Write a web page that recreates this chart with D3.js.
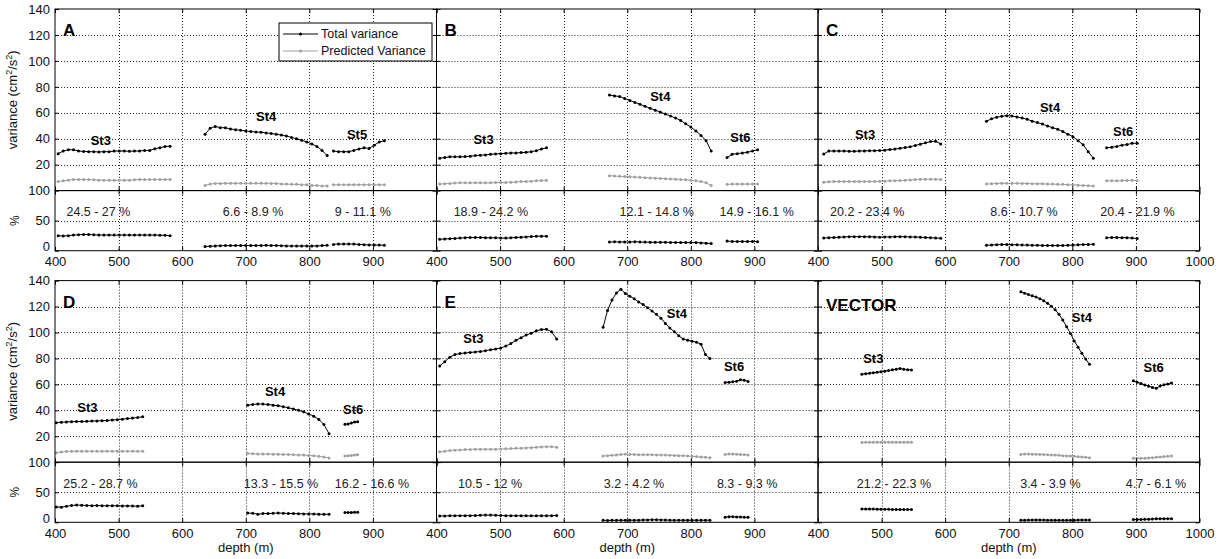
<!DOCTYPE html>
<html><head><meta charset="utf-8">
<script src="https://cdn.jsdelivr.net/npm/d3@7"></script>
<style>
body{margin:0;background:#fff;}
svg text{font-family:"Liberation Sans",Arial,Helvetica,sans-serif;}
</style></head><body>
<svg id="chart" width="1219" height="559"></svg>
<script>
// ---------- tick labels ----------
const depthTicks = [400,500,600,700,800,900,1000];
const varTicks = [20,40,60,80,100,120,140];
const pctTicks = [0,50,100];
const panelNames = ["A","B","C","D","E","VECTOR"];
const stationNames = [["St3","St4","St5"],["St3","St4","St6"],["St3","St4","St6"],["St3","St4","St6"],["St3","St4","St6"],["St3","St4","St6"]];
const legendLabels = ["Total variance","Predicted Variance"];

// ---------- depth grid of each segment: [first depth, bin step] ----------
const A_bins = [[405,8],[636,8],[838,8]];
const B_bins = [[405,8],[672,8],[857,8]];
const C_bins = [[409,8],[665,8],[854,8]];
const D_bins = [[402,8],[703,8],[856,5]];
const E_bins = [[405,8],[662,7],[854,6]];
const F_bins = [[469,6],[719,6],[896,6]];

// ---------- Panel A ----------
const A_St3_tot = [28.5,30.5,31.5,31.5,30.5,30.2,30,30,29.8,30,30,30.5,30.5,30.5,30.3,30.5,30.5,31,31,32.3,33,34,34.2];
const A_St3_pre = [7,7.5,8,8.5,8.5,8.5,8.5,8.3,8,8,8,8,8,8,8,8.3,8.5,8.5,8.5,8.5,8.5,8.5,8.5];
const A_St3_pct = [25,24.5,25,26,26.5,27,27,26.5,26,26,26,26,26,26,26,26,26,26,26,26,25.8,25.5,25];
const A_St4_tot = [43.5,48,49.5,48.5,48.5,47.5,47,46.5,46,45.5,45.2,45,44.5,44,43.5,42.8,42,41,40,38.8,37.5,36,34,31,27];
const A_St4_pre = [4,5,5.5,5.5,5.6,5.6,5.6,5.6,5.6,5.6,5.6,5.6,5.6,5.5,5.5,5,5,4.8,4.8,4.5,4.5,4,4,3.5,3.5];
const A_St4_pct = [6.8,7.5,8,8.3,8.5,8.5,8.5,8.5,8.7,8.7,8.7,8.7,8.9,8.7,8.5,8.3,8,7.8,7.8,7.8,7.8,8,8,8.5,8.9];
const A_St5_tot = [30.5,30,30,30,31,32,33,32.5,35,37.5,38.5];
const A_St5_pre = [4.5,4.5,4.5,4.5,4.5,4.5,4.5,4.5,4.5,4.5,4.5];
const A_St5_pct = [10.5,11,11,11.1,11,10.5,10,9.5,9.5,9.3,9];
// ---------- Panel B ----------
const B_St3_tot = [25,25.5,26,26,26,26.2,26.5,27,27.3,27.5,28,28.3,28.5,28.7,29,29,29.3,29.5,30,30.8,32,33];
const B_St3_pre = [5,5.3,5.5,5.8,6,6,6,6,6,6,6,6.2,6.2,6.3,6.5,6.7,7,7,7.3,7.5,7.8,8];
const B_St3_pct = [19,19.5,20,20.5,21,21.5,22,22,22,21.5,21.5,21.5,21,21,21.5,22,22.5,23,23.5,24,24.2,24.2];
const B_St4_tot = [73.7,73,72.5,71,69.5,68,66.5,65,63.5,62,60.5,59,57.5,56,54,51.5,49,46,42.5,38.5,30.5];
const B_St4_pre = [11.5,11.2,11,10.8,10.6,10.4,10.2,10,9.8,9.6,9.4,9.2,9,8.8,8.5,8.3,8,7.5,7,6,4];
const B_St4_pct = [14.5,14.8,14.5,14.5,14.5,14.8,14.5,14.3,14,14,14,14,13.8,13.8,13.5,13.5,13.5,13.5,13,12.5,12.1];
const B_St6_tot = [25.5,28,28.5,29,29.5,30.5,31.5];
const B_St6_pre = [4.8,5,5,5,5,5,5];
const B_St6_pct = [16,15.5,15.5,15.5,15.5,15.5,15];
// ---------- Panel C ----------
const C_St3_tot = [28.2,30.5,30.5,30.5,30.5,30.3,30.3,30.5,30.6,30.7,30.8,30.9,31.2,31.6,32,32.6,33.2,33.8,34.8,35.8,36.8,37.8,38,36];
const C_St3_pre = [6.5,6.8,7,7,7,7,7,7,7,7,7,7.2,7.3,7.5,7.6,7.8,8,8.2,8.5,8.7,8.8,8.8,8.8,8.5];
const C_St3_pct = [21,21.5,22,22.5,23,23.2,23.4,23.4,23.3,23.2,23,22.5,23,23,23.2,23.4,23.3,23,22.7,22.5,22,21.5,21,20.8];
const C_St4_tot = [53.4,55.4,56.5,57.3,57.8,57.5,56.8,56,55,53.5,52.5,51.3,49.8,48.5,47.2,45.5,43.5,41.6,38.5,35.3,30,24.9];
const C_St4_pre = [5,5.3,5.5,5.6,5.6,5.6,5.6,5.5,5.5,5.3,5.3,5.2,5,5,4.8,4.8,4.5,4.5,4.2,4,3.8,3.5];
const C_St4_pct = [9,9.5,10,10.3,10.2,10,9.8,9.5,9.3,9,9,8.8,8.7,8.6,8.6,8.8,9,9.3,9.7,10.2,10.5,10.7];
const C_St6_tot = [33,33.5,34,35,35.5,36.5,36.5];
const C_St6_pre = [7.5,7.5,7.5,7.7,7.8,8,7.5];
const C_St6_pct = [21.5,21.8,21.9,21.7,21.5,21,20.4];
// ---------- Panel D ----------
const D_St3_tot = [30.5,30.8,31,31.2,31.3,31.4,31.5,31.7,31.8,32,32.2,32.5,32.8,33.2,33.6,34,34.5,35];
const D_St3_pre = [7.3,7.8,8.2,8.4,8.5,8.5,8.5,8.5,8.5,8.5,8.5,8.5,8.5,8.5,8.5,8.5,8.5,8.5];
const D_St3_pct = [25.5,25.2,26.5,28,28.7,28.5,28,27.5,28,27.5,27.5,27.5,27.5,27.3,27.3,27,26.8,27.5];
const D_St4_tot = [44,44.5,44.9,44.8,44.5,44,43.5,42.8,42,41,40,38.8,37.2,35.5,33,29,22];
const D_St4_pre = [6.8,6.5,6.3,6.3,6.3,6.2,6.2,6,6,5.8,5.6,5.5,5.2,5,4.5,4,3.2];
const D_St4_pct = [15.5,15,13.5,14.5,14.5,15,15.5,15,14.8,14.5,14.3,14,14,13.8,13.5,13.3,13.3];
const D_St6_tot = [29.3,29.5,30.3,31,31.2];
const D_St6_pre = [4.8,5,5.2,5.5,5.8];
const D_St6_pct = [16.2,16.4,16.5,16.6,16.6];
// ---------- Panel E ----------
const E_St3_tot = [74.2,77.5,81,83,83.8,84.2,84.6,85,85.3,86,86.7,87.3,88,89.5,91.5,94,96,98,99.5,101.3,102.3,102.5,100.5,95];
const E_St3_pre = [8,8.5,9,9.3,9.5,9.7,9.8,10,10,10,10,10,10.2,10.3,10.5,10.7,10.8,11,11.2,11.5,11.8,12,12,11.5];
const E_St3_pct = [10.5,10.6,10.8,10.8,11,11,11,11.3,11.8,12,12,11.8,11.5,11,10.8,10.8,10.7,10.7,10.7,10.8,10.8,10.8,11,11.3];
const E_St4_tot = [104,117,125,130.5,133.3,130,128,126,123.5,121.5,119,116.5,114,111,107,103.5,100.5,97.5,95,94,93.3,92.5,91,83,80];
const E_St4_pre = [4.8,5,5.3,5.5,6,6.3,6,6,5.8,5.8,5.8,5.8,5.6,5.5,5.5,5.3,5.2,5,5,4.8,4.5,4.3,4,3.8,3.5];
const E_St4_pct = [3.3,3.2,3.3,3.3,3.4,3.4,3.5,3.5,3.6,3.8,4,4.2,4.2,4,3.8,3.6,3.5,3.5,3.5,3.5,3.5,3.5,3.5,3.5,3.5];
const E_St6_tot = [61.5,61.7,62,62.5,63.5,63.2,62.3];
const E_St6_pre = [6,6.3,6.3,6.2,6,5.8,5.6];
const E_St6_pct = [8.5,9.3,9.3,9,8.8,8.5,8.3];
// ---------- Panel VECTOR ----------
const F_St3_tot = [67.8,68.2,68.6,69,69.3,69.8,70.2,70.7,71.2,71.6,72.3,71.6,71.2,71.1];
const F_St3_pre = [15.2,15.3,15.3,15.3,15.3,15.3,15.3,15.3,15.3,15.3,15.3,15.3,15.3,15.3];
const F_St3_pct = [22.3,22.2,22.1,22,21.9,21.8,21.7,21.6,21.5,21.4,21.3,21.2,21.3,21.5];
const F_St4_tot = [131.5,130.3,129.3,128.3,127.3,126,124.5,122.6,120.3,117.5,114,109.6,104.5,99.3,93.5,88.7,84,79.5,75.5];
const F_St4_pre = [6,6.3,6.3,6.2,6.2,6,6,5.8,5.6,5.5,5.3,5,4.8,4.8,4.5,4.2,4,3.8,3.5];
const F_St4_pct = [3.5,3.6,3.7,3.8,3.9,3.8,3.7,3.6,3.6,3.5,3.5,3.4,3.5,3.5,3.6,3.7,3.8,3.8,3.7];
const F_St6_tot = [62.8,61.7,60.6,59.6,58.6,57.6,57,58.8,59.7,60.3,61];
const F_St6_pre = [3,3,3,3,3.3,3.5,3.8,4,4.3,4.6,4.8];
const F_St6_pct = [4.7,4.8,4.8,4.9,5,5.5,5.8,6,6.1,6,6.1];

// ---------- percentage range labels ----------
const A_pctText = ["24.5 - 27 %","6.6 - 8.9 %","9 - 11.1 %"];
const B_pctText = ["18.9 - 24.2 %","12.1 - 14.8 %","14.9 - 16.1 %"];
const C_pctText = ["20.2 - 23.4 %","8.6 - 10.7 %","20.4 - 21.9 %"];
const D_pctText = ["25.2 - 28.7 %","13.3 - 15.5 %","16.2 - 16.6 %"];
const E_pctText = ["10.5 - 12 %","3.2 - 4.2 %","8.3 - 9.3 %"];
const F_pctText = ["21.2 - 22.3 %","3.4 - 3.9 %","4.7 - 6.1 %"];

// ---------- table built from the arrays (annotation anchors in data units) ----------
const panels = [
  {col:0,row:0,bins:A_bins,tot:[A_St3_tot,A_St4_tot,A_St5_tot],pre:[A_St3_pre,A_St4_pre,A_St5_pre],pct:[A_St3_pct,A_St4_pct,A_St5_pct],txt:A_pctText,
   stAt:[[472,39],[732,57],[875,43.6]], pctAt:[418,664,840]},
  {col:1,row:0,bins:B_bins,tot:[B_St3_tot,B_St4_tot,B_St6_tot],pre:[B_St3_pre,B_St4_pre,B_St6_pre],pct:[B_St3_pct,B_St4_pct,B_St6_pct],txt:B_pctText,
   stAt:[[474,39.5],[752,72.4],[878,41]], pctAt:[427,688,845]},
  {col:2,row:0,bins:C_bins,tot:[C_St3_tot,C_St4_tot,C_St6_tot],pre:[C_St3_pre,C_St4_pre,C_St6_pre],pct:[C_St3_pct,C_St4_pct,C_St6_pct],txt:C_pctText,
   stAt:[[474,43.4],[765,64.2],[880,45.4]], pctAt:[419,671,844]},
  {col:0,row:1,bins:D_bins,tot:[D_St3_tot,D_St4_tot,D_St6_tot],pre:[D_St3_pre,D_St4_pre,D_St6_pre],pct:[D_St3_pct,D_St4_pct,D_St6_pct],txt:D_pctText,
   stAt:[[451,42],[746,54.4],[869,40.8]], pctAt:[413,697,840]},
  {col:1,row:1,bins:E_bins,tot:[E_St3_tot,E_St4_tot,E_St6_tot],pre:[E_St3_pre,E_St4_pre,E_St6_pre],pct:[E_St3_pct,E_St4_pct,E_St6_pct],txt:E_pctText,
   stAt:[[458,95.2],[778,114.3],[868,73.4]], pctAt:[434,663,841]},
  {col:2,row:1,bins:F_bins,tot:[F_St3_tot,F_St4_tot,F_St6_tot],pre:[F_St3_pre,F_St4_pre,F_St6_pre],pct:[F_St3_pct,F_St4_pct,F_St6_pct],txt:F_pctText,
   stAt:[[487,79.6],[815,111.4],[928,72.9]], pctAt:[461,718,884]}
];

// ---------- layout ----------
const colLeft = [55, 436.5, 818], panelW = 381.5;
const rowTop = [9, 280.6], upperH = 181.6, lowerH = 60.1;
const GREY = "#a0a0a0";
const svg = d3.select("#chart");

panels.forEach((p, pi) => {
  const L = colLeft[p.col], T = rowTop[p.row];
  const x = d3.scaleLinear().domain([400,1000]).range([L, L+panelW]);
  const yU = d3.scaleLinear().domain([0,140]).range([T+upperH, T]);
  const yL = d3.scaleLinear().domain([0,100]).range([T+upperH+lowerH, T+upperH]);
  const g = svg.append("g");

  // grid
  const grid = g.append("g").attr("stroke","#222").attr("stroke-width",1).attr("stroke-dasharray","1,2");
  depthTicks.slice(1,-1).forEach(d => {
    grid.append("line").attr("x1",Math.round(x(d))+0.5).attr("x2",Math.round(x(d))+0.5).attr("y1",yU(140)).attr("y2",yL(0));
  });
  varTicks.slice(0,-1).forEach(v => {
    grid.append("line").attr("x1",x(400)).attr("x2",x(1000)).attr("y1",Math.round(yU(v))+0.5).attr("y2",Math.round(yU(v))+0.5);
  });
  grid.append("line").attr("x1",x(400)).attr("x2",x(1000)).attr("y1",Math.round(yL(50))+0.5).attr("y2",Math.round(yL(50))+0.5);

  // series
  p.bins.forEach((b, si) => {
    const depths = p.tot[si].map((_, i) => b[0] + i*b[1]);
    const draw = (vals, y, color) => {
      const pts = vals.map((v,i) => [x(depths[i]), y(v)]);
      g.append("path").attr("d", d3.line()(pts)).attr("fill","none").attr("stroke",color).attr("stroke-width",1);
      g.append("g").selectAll("circle").data(pts).join("circle")
        .attr("cx", d=>d[0]).attr("cy", d=>d[1]).attr("r",1.5).attr("fill",color);
    };
    draw(p.pre[si], yU, GREY);
    draw(p.tot[si], yU, "#000");
    draw(p.pct[si], yL, "#000");
    // station name
    g.append("text").attr("x", x(p.stAt[si][0])).attr("y", yU(p.stAt[si][1]))
      .attr("text-anchor","middle").attr("dominant-baseline","central")
      .attr("font-size",13).attr("font-weight","bold").text(stationNames[pi][si]);
    // percent range
    g.append("text").attr("x", x(p.pctAt[si])).attr("y", yL(64))
      .attr("dominant-baseline","central").attr("font-size",12.5).attr("fill","#222").text(p.txt[si]);
  });

  // frames
  g.append("rect").attr("x",x(400)).attr("y",yU(140)).attr("width",panelW).attr("height",upperH)
    .attr("fill","none").attr("stroke","#000").attr("stroke-width",1);
  g.append("rect").attr("x",x(400)).attr("y",yL(100)).attr("width",panelW).attr("height",lowerH)
    .attr("fill","none").attr("stroke","#000").attr("stroke-width",1);

  // axes (ticks inward)
  const styleAxis = sel => { sel.select(".domain").remove(); sel.selectAll("line").attr("stroke","#000"); sel.selectAll("text").attr("font-size",13).attr("fill","#111").attr("font-family",null); };
  const showY = p.col === 0;
  g.append("g").attr("transform",`translate(${x(400)},0)`)
    .call(d3.axisLeft(yU).tickValues(varTicks).tickSize(-4).tickPadding(5).tickFormat(showY ? d3.format("d") : ""))
    .call(styleAxis);
  g.append("g").attr("transform",`translate(${x(1000)},0)`)
    .call(d3.axisRight(yU).tickValues(varTicks).tickSize(-4).tickFormat("")).call(styleAxis);
  g.append("g").attr("transform",`translate(${x(400)},0)`)
    .call(d3.axisLeft(yL).tickValues(pctTicks).tickSize(-4).tickPadding(5).tickFormat(showY ? d3.format("d") : ""))
    .call(styleAxis)
    .call(sel => sel.selectAll(".tick").filter(d => d === 0).select("text").attr("dy","0.02em"));
  g.append("g").attr("transform",`translate(${x(1000)},0)`)
    .call(d3.axisRight(yL).tickValues(pctTicks).tickSize(-4).tickFormat("")).call(styleAxis);
  g.append("g").attr("transform",`translate(0,${yU(140)})`)
    .call(d3.axisTop(x).tickValues(depthTicks).tickSize(-4).tickFormat("")).call(styleAxis);
  g.append("g").attr("transform",`translate(0,${yU(0)})`)
    .call(d3.axisBottom(x).tickValues(depthTicks).tickSize(-4).tickFormat("")).call(styleAxis);
  g.append("g").attr("transform",`translate(0,${yL(100)})`)
    .call(d3.axisTop(x).tickValues(depthTicks).tickSize(-4).tickFormat("")).call(styleAxis);
  const lastCol = p.col === 2;
  g.append("g").attr("transform",`translate(0,${yL(0)})`)
    .call(d3.axisBottom(x).tickValues(lastCol ? depthTicks : depthTicks.slice(0,-1)).tickSize(-4).tickPadding(6).tickFormat(d3.format("d")))
    .call(styleAxis);

  // panel name
  g.append("text").attr("x", L+8).attr("y", T+27 + (pi===5?3:0)).attr("font-size",17).attr("font-weight","bold").text(panelNames[pi]);

  // y labels (first column)
  if (showY) {
    const t = g.append("text").attr("transform",`translate(${L-38},${T+upperH/2}) rotate(-90)`)
      .attr("text-anchor","middle").attr("font-size",13).attr("fill","#111");
    t.append("tspan").text("variance (cm");
    t.append("tspan").attr("font-size",9).attr("dy",-5).text("2");
    t.append("tspan").attr("dy",5).text("/s");
    t.append("tspan").attr("font-size",9).attr("dy",-5).text("2");
    t.append("tspan").attr("dy",5).text(")");
    g.append("text").attr("transform",`translate(${L-36},${T+upperH+lowerH/2}) rotate(-90)`)
      .attr("text-anchor","middle").attr("font-size",12).attr("fill","#111").text("%");
  }
  if (p.row === 1) {
    g.append("text").attr("x", L+panelW/2).attr("y", 552).attr("text-anchor","middle")
      .attr("font-size",13).attr("fill","#111").text("depth (m)");
  }

  // legend in first panel
  if (pi === 0) {
    const lg = g.append("g").attr("transform",`translate(${L+224},${T+14})`);
    lg.append("rect").attr("width",153).attr("height",38).attr("fill","#fff").attr("stroke","#000").attr("stroke-width",1);
    [["#000",0],[GREY,1]].forEach(([c,i]) => {
      const yy = 11 + i*17;
      lg.append("line").attr("x1",4).attr("x2",39).attr("y1",yy).attr("y2",yy).attr("stroke",c).attr("stroke-width",1);
      lg.append("circle").attr("cx",21.5).attr("cy",yy).attr("r",1.6).attr("fill",c);
      lg.append("text").attr("x",42).attr("y",yy).attr("dominant-baseline","central").attr("font-size",12.5).attr("fill","#111").text(legendLabels[i]);
    });
  }
});
</script>
</body></html>
